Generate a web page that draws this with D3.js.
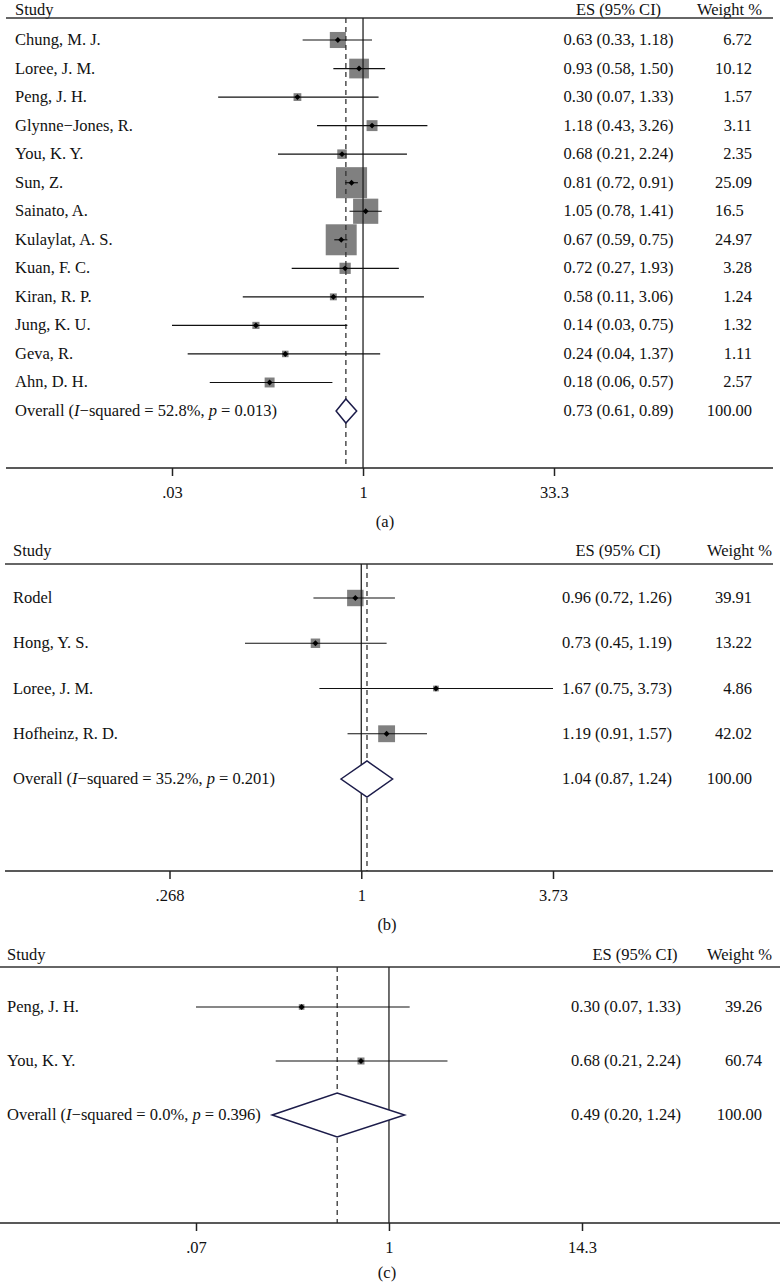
<!DOCTYPE html>
<html>
<head>
<meta charset="utf-8">
<script src="https://cdn.jsdelivr.net/npm/d3@7/dist/d3.min.js"></script>
<style>
  html, body { margin: 0; padding: 0; background: #fff; }
  svg { display: block; }
  text { font-family: "Liberation Serif", "Times New Roman", serif; fill: #111; }
</style>
</head>
<body>
<svg id="chart" width="780" height="1283"></svg>
<script>
// ---------- Panel (a) data ----------
const studiesA = ["Chung, M. J.", "Loree, J. M.", "Peng, J. H.", "Glynne\u2212Jones, R.", "You, K. Y.", "Sun, Z.",
  "Sainato, A.", "Kulaylat, A. S.", "Kuan, F. C.", "Kiran, R. P.", "Jung, K. U.", "Geva, R.", "Ahn, D. H."];
const esA = [0.63, 0.93, 0.30, 1.18, 0.68, 0.81, 1.05, 0.67, 0.72, 0.58, 0.14, 0.24, 0.18];
const loA = [0.33, 0.58, 0.07, 0.43, 0.21, 0.72, 0.78, 0.59, 0.27, 0.11, 0.03, 0.04, 0.06];
const hiA = [1.18, 1.50, 1.33, 3.26, 2.24, 0.91, 1.41, 0.75, 1.93, 3.06, 0.75, 1.37, 0.57];
const weightA = [6.72, 10.12, 1.57, 3.11, 2.35, 25.09, 16.5, 24.97, 3.28, 1.24, 1.32, 1.11, 2.57];
const overallA = { es: 0.73, lo: 0.61, hi: 0.89, i2: "52.8%", p: "0.013", weight: "100.00" };
const ticksA = [0.03, 1, 33.3];
const tickLabelsA = [".03", "1", "33.3"];

// ---------- Panel (b) data ----------
const studiesB = ["Rodel", "Hong, Y. S.", "Loree, J. M.", "Hofheinz, R. D."];
const esB = [0.96, 0.73, 1.67, 1.19];
const loB = [0.72, 0.45, 0.75, 0.91];
const hiB = [1.26, 1.19, 3.73, 1.57];
const weightB = [39.91, 13.22, 4.86, 42.02];
const overallB = { es: 1.04, lo: 0.87, hi: 1.24, i2: "35.2%", p: "0.201", weight: "100.00" };
const ticksB = [0.268, 1, 3.73];
const tickLabelsB = [".268", "1", "3.73"];

// ---------- Panel (c) data ----------
const studiesC = ["Peng, J. H.", "You, K. Y."];
const esC = [0.30, 0.68];
const loC = [0.07, 0.21];
const hiC = [1.33, 2.24];
const weightC = [39.26, 60.74];
const overallC = { es: 0.49, lo: 0.20, hi: 1.24, i2: "0.0%", p: "0.396", weight: "100.00" };
const ticksC = [0.07, 1, 14.3];
const tickLabelsC = [".07", "1", "14.3"];

// ---------- Layout (styles / positions) ----------
const panels = [
  { caption: "(a)", studies: studiesA, es: esA, lo: loA, hi: hiA, w: weightA, overall: overallA, ticks: ticksA, tickLabels: tickLabelsA,
    labelX: 15, headBase: 15, headLine: 18, lineX1: 6, lineX2: 773, row0: 40, rowStep: 28.54, axisY: 468,
    range: [172, 554], esX: 618.5, esHeadX: 618.5, wX: 752, wHeadX: 762, dH: 12, boxK: 6.2, capY: 527, capX: 385 },
  { caption: "(b)", studies: studiesB, es: esB, lo: loB, hi: hiB, w: weightB, overall: overallB, ticks: ticksB, tickLabels: tickLabelsB,
    labelX: 13, headBase: 556, headLine: 564, lineX1: 5, lineX2: 773, row0: 598, rowStep: 45.25, axisY: 871,
    range: [169.5, 553], esX: 617, esHeadX: 618, wX: 752, wHeadX: 772, dH: 18, boxK: 2.6, capY: 930, capX: 387 },
  { caption: "(c)", studies: studiesC, es: esC, lo: loC, hi: hiC, w: weightC, overall: overallC, ticks: ticksC, tickLabels: tickLabelsC,
    labelX: 7, headBase: 960, headLine: 967, lineX1: 0, lineX2: 780, row0: 1007, rowStep: 54, axisY: 1223,
    range: [196, 582], esX: 626, esHeadX: 635, wX: 762, wHeadX: 772, dH: 22, boxK: 0.9, capY: 1278, capX: 387 }
];

const FS = 16.5;
const f2 = d3.format(".2f");
const svg = d3.select("#chart");

panels.forEach(P => {
  const g = svg.append("g");
  const x = d3.scaleLog().domain([P.ticks[0], P.ticks[P.ticks.length - 1]]).range(P.range);
  const n = P.studies.length;
  const y = d3.scaleLinear().domain([0, 1]).range([P.row0, P.row0 + P.rowStep]);
  const rows = P.studies.map((s, i) => ({ name: s, es: P.es[i], lo: P.lo[i], hi: P.hi[i], w: P.w[i], y: y(i) }));
  const oy = y(n);

  // header
  g.append("text").attr("x", P.labelX).attr("y", P.headBase).attr("font-size", FS).text("Study");
  g.append("text").attr("x", P.esHeadX).attr("y", P.headBase).attr("font-size", FS).attr("text-anchor", "middle").text("ES (95% CI)");
  g.append("text").attr("x", P.wHeadX).attr("y", P.headBase).attr("font-size", FS).attr("text-anchor", "end").text("Weight %");
  g.append("line").attr("x1", P.lineX1).attr("x2", P.lineX2).attr("y1", P.headLine).attr("y2", P.headLine)
    .attr("stroke", "#333").attr("stroke-width", 1.5);

  // boxes (behind)
  g.selectAll("rect.box").data(rows).join("rect").attr("class", "box")
    .attr("x", d => x(d.es) - P.boxK * Math.sqrt(d.w) / 2)
    .attr("y", d => d.y - P.boxK * Math.sqrt(d.w) / 2)
    .attr("width", d => P.boxK * Math.sqrt(d.w))
    .attr("height", d => P.boxK * Math.sqrt(d.w))
    .attr("fill", "#808080");

  // reference lines
  g.append("line").attr("x1", x(1)).attr("x2", x(1)).attr("y1", P.headLine).attr("y2", P.axisY)
    .attr("stroke", "#222").attr("stroke-width", 1.3);
  g.append("line").attr("x1", x(P.overall.es)).attr("x2", x(P.overall.es)).attr("y1", P.headLine).attr("y2", P.axisY)
    .attr("stroke", "#333").attr("stroke-width", 1.3).attr("stroke-dasharray", "5,4");

  // CI lines
  g.selectAll("line.ci").data(rows).join("line").attr("class", "ci")
    .attr("x1", d => x(d.lo)).attr("x2", d => x(d.hi)).attr("y1", d => d.y).attr("y2", d => d.y)
    .attr("stroke", "#111").attr("stroke-width", 1.2);

  // point markers
  g.selectAll("path.pt").data(rows).join("path").attr("class", "pt")
    .attr("transform", d => `translate(${x(d.es)},${d.y})`)
    .attr("d", d3.symbol(d3.symbolDiamond2, 22))
    .attr("fill", "#000");

  // overall diamond
  const o = P.overall;
  g.append("path")
    .attr("d", `M${x(o.lo)},${oy} L${x(o.es)},${oy - P.dH} L${x(o.hi)},${oy} L${x(o.es)},${oy + P.dH} Z`)
    .attr("fill", "#fff").attr("stroke", "#1c1c4a").attr("stroke-width", 1.5);

  // labels
  g.selectAll("text.lab").data(rows).join("text").attr("class", "lab")
    .attr("x", P.labelX).attr("y", d => d.y + 5).attr("font-size", FS).text(d => d.name);
  g.selectAll("text.es").data(rows).join("text").attr("class", "es")
    .attr("x", P.esX).attr("y", d => d.y + 5).attr("font-size", FS).attr("text-anchor", "middle")
    .text(d => `${f2(d.es)} (${f2(d.lo)}, ${f2(d.hi)})`);
  g.selectAll("text.w").data(rows).join("text").attr("class", "w")
    .attr("x", P.wX).attr("y", d => d.y + 5).attr("font-size", FS).attr("text-anchor", "end")
    .attr("dx", d => (String(d.w).split(".")[1] || "").length === 1 ? "-0.5em" : 0)
    .text(d => String(d.w));

  const ot = g.append("text").attr("x", P.labelX).attr("y", oy + 5).attr("font-size", FS);
  ot.append("tspan").text("Overall (");
  ot.append("tspan").attr("font-style", "italic").text("I");
  ot.append("tspan").text(`\u2212squared = ${o.i2}, `);
  ot.append("tspan").attr("font-style", "italic").text("p");
  ot.append("tspan").text(` = ${o.p})`);
  g.append("text").attr("x", P.esX).attr("y", oy + 5).attr("font-size", FS).attr("text-anchor", "middle")
    .text(`${f2(o.es)} (${f2(o.lo)}, ${f2(o.hi)})`);
  g.append("text").attr("x", P.wX).attr("y", oy + 5).attr("font-size", FS).attr("text-anchor", "end").text(o.weight);

  // axis
  g.append("line").attr("x1", P.lineX1).attr("x2", P.lineX2).attr("y1", P.axisY).attr("y2", P.axisY)
    .attr("stroke", "#222").attr("stroke-width", 1.5);
  const ax = g.append("g").attr("transform", `translate(0,${P.axisY})`)
    .call(d3.axisBottom(x).tickValues(P.ticks).tickFormat((d, i) => P.tickLabels[i]).tickSize(8).tickPadding(10));
  ax.select(".domain").remove();
  ax.selectAll(".tick line").attr("stroke", "#222").attr("stroke-width", 1.5);
  ax.selectAll(".tick text").attr("font-size", FS).attr("font-family", "Liberation Serif, serif").attr("fill", "#111");

  // caption
  g.append("text").attr("x", P.capX).attr("y", P.capY).attr("font-size", FS).attr("text-anchor", "middle").text(P.caption);
});
</script>
</body>
</html>
